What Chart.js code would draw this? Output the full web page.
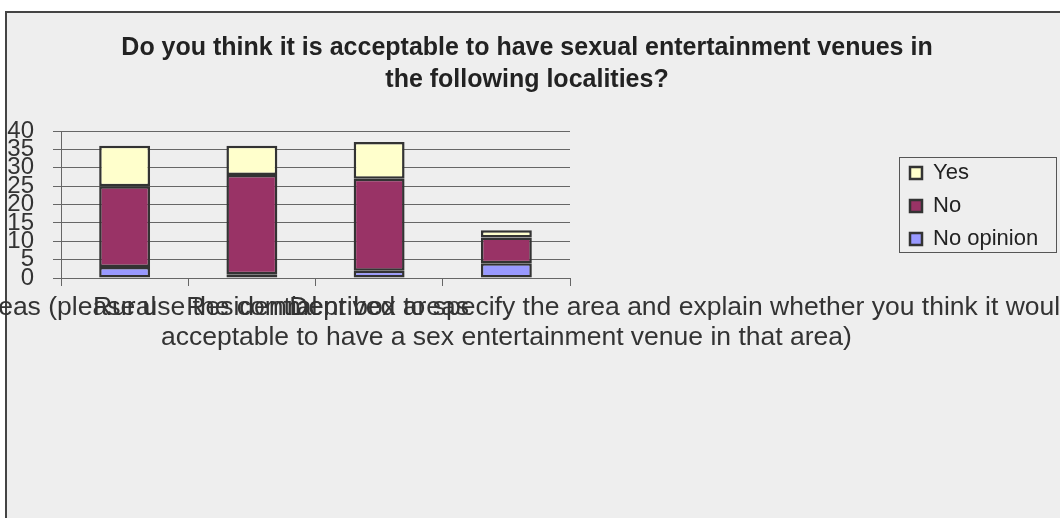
<!DOCTYPE html>
<html>
<head>
<meta charset="utf-8">
<title>Sexual entertainment venues by locality</title>
<script src="https://cdn.jsdelivr.net/npm/chart.js@4/dist/chart.umd.min.js"></script>
<style>
    html, body {
        margin: 0;
        padding: 0;
        background: #ffffff;
        overflow: hidden;
    }
    .frame {
        position: absolute;
        left: 5px;
        top: 11px;
        width: 1060px;
        height: 520px;
        background: #eeeeee;
        border-left: 2px solid #444444;
        border-top: 2px solid #444444;
    }
    .chart-box {
        position: absolute;
        left: 0;
        top: 0;
        width: 1060px;
        height: 518px;
    }
</style>
</head>
<body>
<div class="frame"></div>
<div class="chart-box">
    <canvas id="localityChart"></canvas>
</div>
<script>
// Survey data
const categories = [
    "Rural",
    "Residential",
    "Deprived areas",
    ["Other areas (please use the comment box to specify the area and explain whether you think it would be",
     "acceptable to have a sex entertainment venue in that area)"]
];
const yesValues = [11, 8, 10, 2];
const noValues = [22, 27, 25, 7];
const noOpinionValues = [3, 1, 2, 4];
const yTickValues = [0, 5, 10, 15, 20, 25, 30, 35, 40];

const titleLines = [
    "Do you think it is acceptable to have sexual entertainment venues in",
    "the following localities?"
];

Chart.defaults.font.family = "'Liberation Sans', Arial, sans-serif";
Chart.defaults.color = "#333333";

// Excel-style legend: sits far right, inside a thin box
const legendSpot = {
    id: "legendSpot",
    afterLayout(chart) {
        const lg = chart.legend;
        const w = lg.width;
        lg.left = 899;
        lg.right = 899 + w;
        lg.top = 151;
        lg.bottom = 290;
        lg.height = lg.bottom - lg.top;
    },
    afterDraw(chart) {
        const ctx = chart.ctx;
        ctx.save();
        ctx.strokeStyle = "#555555";
        ctx.lineWidth = 1;
        ctx.strokeRect(899.5, 157.5, 157, 95);
        ctx.restore();
    }
};

const ctx = document.getElementById("localityChart");

new Chart(ctx, {
    type: "bar",
    data: {
        labels: categories,
        datasets: [
            {
                label: "No opinion",
                data: noOpinionValues,
                backgroundColor: "#9999ff",
                borderColor: "#333333",
                borderWidth: 2.5,
                borderSkipped: false
            },
            {
                label: "No",
                data: noValues,
                backgroundColor: "#993366",
                borderColor: "#333333",
                borderWidth: 2.5,
                borderSkipped: false
            },
            {
                label: "Yes",
                data: yesValues,
                backgroundColor: "#ffffcc",
                borderColor: "#333333",
                borderWidth: 2.5,
                borderSkipped: false
            }
        ]
    },
    options: {
        responsive: true,
        maintainAspectRatio: false,
        animation: false,
        layout: {
            padding: { top: 0, left: 0, right: 6, bottom: 158 }
        },
        datasets: {
            bar: {
                barPercentage: 0.4,
                categoryPercentage: 1
            }
        },
        scales: {
            x: {
                stacked: true,
                grid: {
                    drawOnChartArea: false,
                    tickLength: 8,
                    color: "#666666"
                },
                border: { color: "#666666", width: 1 },
                ticks: {
                    autoSkip: false,
                    maxRotation: 0,
                    minRotation: 0,
                    padding: 7,
                    color: "#333333",
                    font: { size: 26.5, lineHeight: "30px" }
                },
                afterFit(scale) {
                    // keep the long label from squeezing the plot
                    scale.paddingLeft = 0;
                    scale.paddingRight = 490;
                }
            },
            y: {
                stacked: true,
                min: 0,
                max: 40,
                afterBuildTicks(scale) {
                    scale.ticks = yTickValues.map(v => ({ value: v }));
                },
                grid: {
                    tickLength: 8,
                    color: "#666666"
                },
                border: { color: "#666666", width: 1 },
                ticks: {
                    autoSkip: false,
                    padding: 19,
                    color: "#333333",
                    font: { size: 24 }
                },
                afterFit(scale) {
                    scale.width = 61;
                }
            }
        },
        plugins: {
            title: {
                display: true,
                text: titleLines,
                color: "#222222",
                font: { size: 25, weight: "bold", lineHeight: "32px" },
                padding: { top: 32, bottom: 35 }
            },
            legend: {
                position: "right",
                align: "start",
                reverse: true,
                labels: {
                    boxWidth: 12,
                    boxHeight: 12,
                    padding: 11,
                    color: "#222222",
                    font: { size: 22 }
                }
            },
            tooltip: { enabled: false }
        }
    },
    plugins: [legendSpot]
});
</script>
</body>
</html>
